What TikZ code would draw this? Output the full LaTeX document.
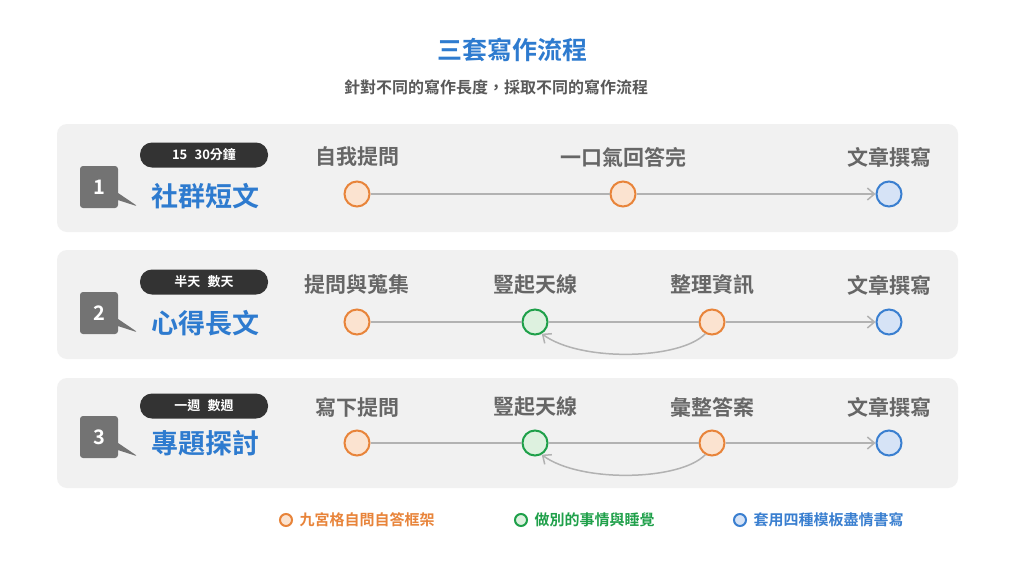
\documentclass[tikz,border=0pt]{standalone}
\usepackage{fontspec}
\setmainfont{Noto Sans CJK TC}[BoldFont={* Bold}]
\usetikzlibrary{arrows.meta,shapes.callouts}
\definecolor{bl}{HTML}{2E7BCF}
\definecolor{orc}{HTML}{E8843A}
\definecolor{orf}{HTML}{FBE3D0}
\definecolor{grc}{HTML}{1FA04A}
\definecolor{grf}{HTML}{DDF1DF}
\definecolor{blc}{HTML}{3A7FD0}
\definecolor{blf}{HTML}{D6E3F6}
\definecolor{panel}{HTML}{F1F1F1}
\begin{document}
\begin{tikzpicture}[x=1pt,y=-1pt,
  panelbox/.style={fill=panel,rounded corners=10pt,draw=none},
  lbl/.style={text=black!60,font=\fontsize{21}{21}\selectfont\bfseries},
  oc/.style={circle,draw=orc,fill=orf,line width=2pt,minimum size=25pt,inner sep=0},
  gc/.style={circle,draw=grc,fill=grf,line width=2pt,minimum size=25pt,inner sep=0},
  bc/.style={circle,draw=blc,fill=blf,line width=2pt,minimum size=25pt,inner sep=0},
  ln/.style={draw=black!30,line width=1.5pt},
  arr/.style={ln,-{Straight Barb[length=7pt,width=12pt]}},
  num/.style={rectangle callout,fill=black!55,text=white,rounded corners=3pt,minimum width=38pt,minimum height=42pt,font=\fontsize{20}{20}\selectfont\bfseries,callout relative pointer={(20pt,-10pt)}},
  pill/.style={fill=black!80,text=white,rounded corners=12pt,minimum width=128pt,minimum height=25pt,inner sep=0,font=\fontsize{13}{13}\selectfont\bfseries},
  ttl/.style={text=bl,font=\fontsize{27}{27}\selectfont\bfseries},
  leg/.style={font=\fontsize{15}{15}\selectfont\bfseries,anchor=west},
  lc/.style={circle,line width=2pt,minimum size=12pt,inner sep=0}]
\useasboundingbox (0,0) rectangle (1024,576);
\fill[white] (0,0) rectangle (1024,576);
\node[text=bl,font=\fontsize{25}{25}\selectfont\bfseries] (h) at (512,50) {三套寫作流程};
\node[text=black!65,font=\fontsize{16}{16}\selectfont\bfseries] (s) at (496,87) {針對不同的寫作長度，採取不同的寫作流程};
% panels
\fill[panelbox] (57,124) rectangle (958,232);
\fill[panelbox] (57,250) rectangle (958,359);
\fill[panelbox] (57,378) rectangle (958,488);
% row 1
\node[num] (n1) at (99,187) {1};
\node[pill] (p1) at (204,155) {15\,~\,30分鐘};
\node[ttl] (t1) at (205,196) {社群短文};
\node[lbl] (l11) at (357,157) {自我提問};
\node[lbl] (l12) at (623,157) {一口氣回答完};
\node[lbl] (l13) at (889,157) {文章撰寫};
\node[oc] (a1) at (357,194) {};
\node[oc] (a2) at (623,194) {};
\node[bc] (a3) at (889,194) {};
\draw[ln] (a1) -- (a2);
\draw[arr] (a2) -- (a3);
% row 2
\node[num] (n2) at (99,313) {2};
\node[pill] (p2) at (204,282) {半天\,~\,數天};
\node[ttl] (t2) at (205,323) {心得長文};
\node[lbl] (l21) at (357,285) {提問與蒐集};
\node[lbl] (l22) at (535,285) {豎起天線};
\node[lbl] (l23) at (712,285) {整理資訊};
\node[lbl] (l24) at (889,285) {文章撰寫};
\node[oc] (b1) at (357,322) {};
\node[gc] (b2) at (535,322) {};
\node[oc] (b3) at (712,322) {};
\node[bc] (b4) at (889,322) {};
\draw[ln] (b1) -- (b2); \draw[ln] (b2) -- (b3);
\draw[arr] (b3) -- (b4);
\draw[arr] (b3.240) .. controls (680,360) and (580,362) .. (b2.300);
% row 3
\node[num] (n3) at (99,437) {3};
\node[pill] (p3) at (204,406) {一週\,~\,數週};
\node[ttl] (t3) at (205,443) {專題探討};
\node[lbl] (l31) at (357,407) {寫下提問};
\node[lbl] (l32) at (535,407) {豎起天線};
\node[lbl] (l33) at (712,407) {彙整答案};
\node[lbl] (l34) at (889,407) {文章撰寫};
\node[oc] (c1) at (357,443) {};
\node[gc] (c2) at (535,443) {};
\node[oc] (c3) at (712,443) {};
\node[bc] (c4) at (889,443) {};
\draw[ln] (c1) -- (c2); \draw[ln] (c2) -- (c3);
\draw[arr] (c3) -- (c4);
\draw[arr] (c3.240) .. controls (680,481) and (580,483) .. (c2.300);
% legend
\node[lc,draw=orc,fill=orf] (k1) at (286,520) {};
\node[leg,text=orc] (k1t) at (296,520) {九宮格自問自答框架};
\node[lc,draw=grc,fill=grf] (k2) at (521,520) {};
\node[leg,text=grc] (k2t) at (531,520) {做別的事情與睡覺};
\node[lc,draw=blc,fill=blf] (k3) at (740,520) {};
\node[leg,text=blc] (k3t) at (750,520) {套用四種模板盡情書寫};
\end{tikzpicture}
\end{document}
